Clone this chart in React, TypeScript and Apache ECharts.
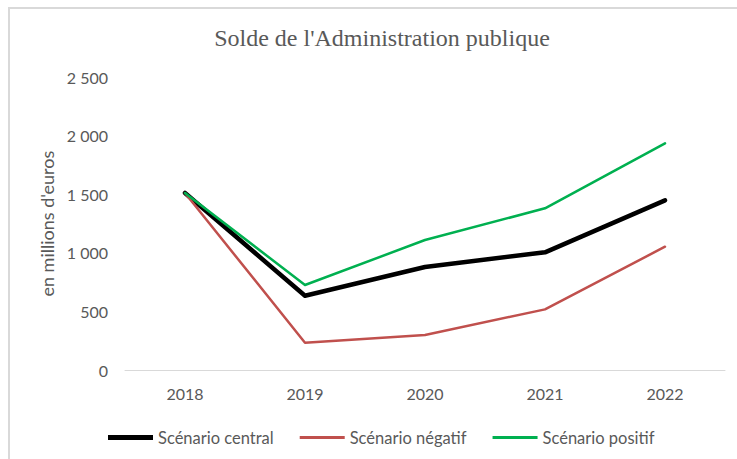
import React, { useEffect, useRef } from "react";
import * as echarts from "echarts";

const years = ["2018", "2019", "2020", "2021", "2022"];
const central = [1512, 634, 880, 1005, 1449];
const negatif = [1512, 233, 299, 518, 1053];
const positif = [1512, 726, 1110, 1381, 1936];
const yTicks = { min: 0, max: 2500, interval: 500 };

const fmt = (v: number) => {
  const s = String(Math.round(v));
  return s.replace(/\B(?=(\d{3})+(?!\d))/g, " ");
};

const thickIcon = "path://M0,0L0.001,0ZM0,4.5H45V9.5H0ZM0,14L0.001,14Z";
const thinIcon = "path://M0,0L0.001,0ZM0,5.5H45V8.5H0ZM0,14L0.001,14Z";

export default function App() {
  const ref = useRef<HTMLDivElement>(null);
  useEffect(() => {
    document.body.style.margin = "0";
    const chart = echarts.init(ref.current!, null, { renderer: "svg" });
    const labelFont = "Lato";
    chart.setOption({
      animation: false,
      backgroundColor: "#ffffff",
      title: {
        text: "Solde de l'Administration publique",
        left: 377,
        textAlign: "center",
        top: 21,
        textStyle: {
          fontFamily: "Liberation Serif",
          fontSize: 24,
          fontWeight: "normal",
          color: "#595959",
        },
      },
      graphic: [
        { type: "line", shape: { x1: 8, y1: 8, x2: 737, y2: 8 }, style: { stroke: "#d9d9d9", lineWidth: 2 } },
        { type: "line", shape: { x1: 9, y1: 7, x2: 9, y2: 459 }, style: { stroke: "#d9d9d9", lineWidth: 2 } },
      ],
      grid: { left: 125, right: 12, top: 77.3, bottom: 89 },
      xAxis: {
        type: "category",
        data: years,
        boundaryGap: true,
        axisLine: { lineStyle: { color: "#d9d9d9", width: 1 } },
        axisTick: { show: false },
        axisLabel: { color: "#595959", fontFamily: labelFont, fontSize: 16, margin: 15 },
      },
      yAxis: {
        type: "value",
        min: yTicks.min,
        max: yTicks.max,
        interval: yTicks.interval,
        name: "en millions d'euros",
        nameLocation: "middle",
        nameGap: 67,
        nameRotate: 90,
        nameTextStyle: { color: "#595959", fontFamily: labelFont, fontSize: 18 },
        axisLine: { show: false },
        axisTick: { show: false },
        splitLine: { show: false },
        axisLabel: { color: "#595959", fontFamily: labelFont, fontSize: 16, margin: 17, formatter: fmt },
      },
      legend: {
        left: 103,
        top: 424,
        itemWidth: 45,
        itemHeight: 14,
        itemGap: 26,
        itemStyle: { borderWidth: 0 },
        textStyle: { color: "#595959", fontFamily: labelFont, fontSize: 16.5 },
        data: [
          { name: "Scénario central", icon: thickIcon, itemStyle: { color: "#000000", borderWidth: 0 } },
          { name: "Scénario négatif", icon: thinIcon, itemStyle: { color: "#C0504D", borderWidth: 0 } },
          { name: "Scénario positif", icon: thinIcon, itemStyle: { color: "#00B050", borderWidth: 0 } },
        ],
      },
      series: [
        {
          name: "Scénario central",
          type: "line",
          data: central,
          showSymbol: false,
          symbol: "none",
          lineStyle: { color: "#000000", width: 4.5, join: "round", cap: "round" },
          itemStyle: { color: "#000000" },
        },
        {
          name: "Scénario négatif",
          type: "line",
          data: negatif,
          showSymbol: false,
          symbol: "none",
          lineStyle: { color: "#C0504D", width: 2.5, join: "round", cap: "round" },
          itemStyle: { color: "#C0504D" },
        },
        {
          name: "Scénario positif",
          type: "line",
          data: positif,
          showSymbol: false,
          symbol: "none",
          lineStyle: { color: "#00B050", width: 2.5, join: "round", cap: "round" },
          itemStyle: { color: "#00B050" },
        },
      ],
    });
    return () => chart.dispose();
  }, []);
  return <div ref={ref} style={{ width: 737, height: 459 }} />;
}
